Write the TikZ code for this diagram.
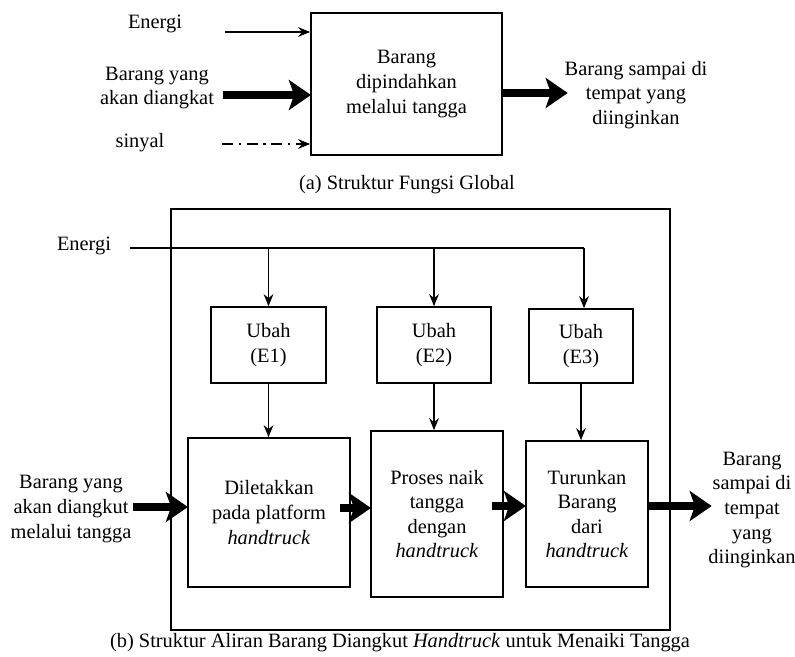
\documentclass[tikz,border=0pt]{standalone}
\usepackage{fontspec}
\setmainfont{Liberation Serif}
\usetikzlibrary{arrows.meta}

\tikzset{
    blok/.style={draw, line width=1.1pt, align=center, inner sep=2pt},
    teks/.style={align=center, inner sep=0pt},
    panah/.style={line width=0.8pt, -{Stealth[length=3mm, width=2.4mm]}},
    aliran/.style={line width=5.5pt, -{Stealth[length=5.5mm, width=7.5mm, inset=1.3mm]}, shorten >=-0.5pt},
    sinyalpanah/.style={line width=0.8pt, dash pattern=on 8pt off 4pt on 1.5pt off 4pt, -{Stealth[length=3mm, width=2.4mm]}}
}

\begin{document}
\begin{tikzpicture}[x=0.025cm, y=-0.025cm, font=\fontsize{14.5}{17.5}\selectfont]
        \useasboundingbox (0,0) rectangle (795,657);
        \node[blok, minimum width=4.775cm, minimum height=3.55cm] (global) at (406.5,84) {Barang\\dipindahkan\\melalui tangga};
        \node[teks] (energia) at (155,24) {Energi};
        \node[teks] (barangin) at (157,88) {Barang yang\\akan diangkat};
        \node[teks] (sinyal) at (140,143) {sinyal};
        \node[teks] (barangout) at (636,95) {Barang sampai di\\tempat yang\\diinginkan};
        \node[teks] (capa) at (407,185) {(a) Struktur Fungsi Global};
        \coordinate (ea) at (225,32);
        \coordinate (ba) at (223,95);
        \coordinate (sa) at (222,144);
        \coordinate (oa) at (567,93);
        \draw[panah] (ea) -- (ea -| global.west);
        \draw[aliran] (ba) -- (ba -| global.west);
        \draw[sinyalpanah] (sa) -- (sa -| global.west);
        \draw[aliran] (oa -| global.east) -- (oa);

        \draw[line width=1.1pt] (171,209) rectangle (670,630);
        \node[teks] (energib) at (84,246) {Energi};
        \node[blok, minimum width=2.875cm, minimum height=1.9cm] (ubah1) at (268.5,345) {Ubah\\(E1)};
        \node[blok, minimum width=2.85cm, minimum height=1.9cm] (ubah2) at (434,345) {Ubah\\(E2)};
        \node[blok, minimum width=2.6cm, minimum height=1.85cm] (ubah3) at (581,346) {Ubah\\(E3)};
        \node[blok, minimum width=4.05cm, minimum height=3.725cm] (letak) at (269,512.5) {Diletakkan\\pada platform\\\textit{handtruck}};
        \node[blok, minimum width=3.3cm, minimum height=4.15cm] (naik) at (437,514) {Proses naik\\tangga\\dengan\\\textit{handtruck}};
        \node[blok, minimum width=3.05cm, minimum height=3.65cm] (turun) at (587,514) {Turunkan\\Barang\\dari\\\textit{handtruck}};
        \node[teks] (barangmasuk) at (71,509) {Barang yang\\akan diangkut\\melalui tangga};
        \node[teks] (barangkeluar) at (752,510) {Barang\\sampai di\\tempat\\yang\\diinginkan};
        \node[teks] (capb) at (400,643) {(b) Struktur Aliran Barang Diangkut \textit{Handtruck} untuk Menaiki Tangga};
        \coordinate (eb) at (130,248);
        \coordinate (eb3) at (584,248);
        \coordinate (fin) at (133,507);
        \coordinate (f1) at (340,508);
        \coordinate (f2) at (492,506);
        \coordinate (fout) at (711,506);
        \draw[line width=0.8pt] (eb) -- (eb3);
        \draw[panah] (eb -| ubah1) -- (ubah1.north);
        \draw[panah] (eb -| ubah2) -- (ubah2.north);
        \draw[panah] (eb3) -- (eb3 |- ubah3.north);
        \draw[panah] (ubah1.south) -- (ubah1.south |- letak.north);
        \draw[panah] (ubah2.south) -- (ubah2.south |- naik.north);
        \draw[panah] (ubah3.south) -- (ubah3.south |- turun.north);
        \draw[aliran] (fin) -- (fin -| letak.west);
        \draw[aliran] (f1) -- (f1 -| naik.west);
        \draw[aliran] (f2) -- (f2 -| turun.west);
        \draw[aliran] (turun.east |- fout) -- (fout);
    \end{tikzpicture}
\end{document}
